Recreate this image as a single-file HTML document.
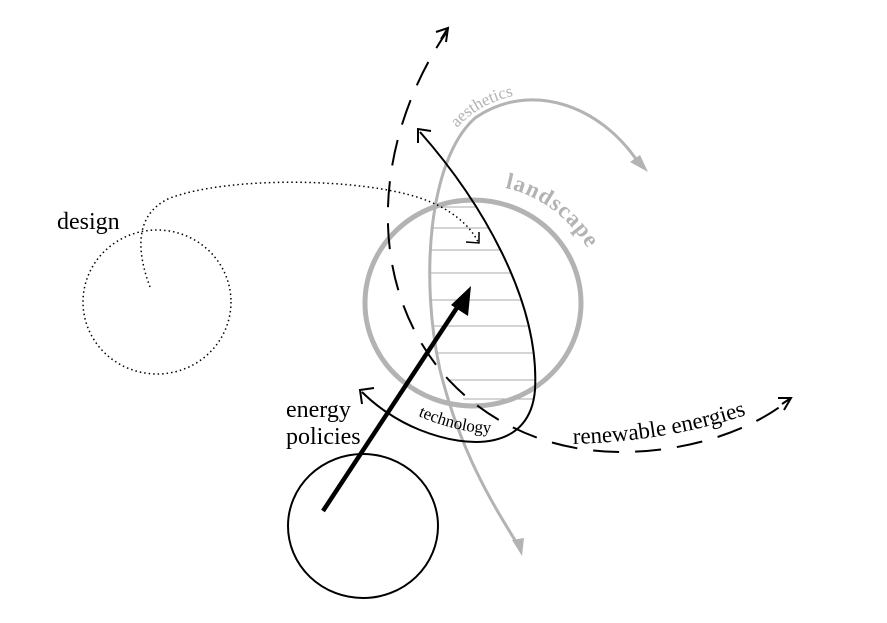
<!DOCTYPE html>
<html><head><meta charset="utf-8"><style>
html,body{margin:0;padding:0;background:#fff}
svg{display:block;font-family:"Liberation Serif",serif}
</style></head><body>
<svg width="887" height="623" viewBox="0 0 887 623" xmlns="http://www.w3.org/2000/svg">
<defs>
<clipPath id="leaf"><path d="M440,370 C420,280 425,160 470,115 L418,130 C480,200 540,300 535,390 C532,430 510,440 480,420 Z"/></clipPath>
</defs>
<g stroke="#aaa" stroke-width="1" clip-path="url(#leaf)">
<line x1="380" y1="207" x2="600" y2="207"/><line x1="380" y1="228" x2="600" y2="228"/>
<line x1="380" y1="250" x2="600" y2="250"/><line x1="380" y1="273" x2="600" y2="273"/>
<line x1="380" y1="300" x2="600" y2="300"/><line x1="380" y1="326" x2="600" y2="326"/>
<line x1="380" y1="353" x2="600" y2="353"/><line x1="380" y1="380" x2="600" y2="380"/>
<line x1="380" y1="399" x2="600" y2="399"/>
</g>
<ellipse cx="473" cy="303" rx="108" ry="103" fill="none" stroke="#b3b3b3" stroke-width="5"/>
<path d="M638,162 C600,105 530,80 475,118 C428,160 420,280 440,370 C460,450 490,500 518,545" fill="none" stroke="#b3b3b3" stroke-width="3"/>
<polygon points="648,172 630,162 640,155" fill="#b3b3b3"/>
<polygon points="522,556 512,540 524,538" fill="#b3b3b3"/>
<path id="aesT" d="M457,128 C475,108 500,95 540,92" fill="none"/>
<text font-size="17" fill="#b3b3b3"><textPath href="#aesT">aesthetics</textPath></text>
<path id="landT" d="M505,188 C540,195 575,220 597,265" fill="none"/>
<text font-size="23" font-weight="bold" fill="#b3b3b3" letter-spacing="1"><textPath href="#landT">landscape</textPath></text>
<path d="M446,33 C380,130 360,270 440,370 C490,430 560,452 620,452 C690,452 750,430 785,403" fill="none" stroke="#000" stroke-width="2" stroke-dasharray="26,16" stroke-dashoffset="8"/>
<path d="M436,32 L448,28 L446,42 M448,28 L441,39" fill="none" stroke="#000" stroke-width="2"/>
<path d="M778,398 L791,398 L784,410 M791,398 L782,404" fill="none" stroke="#000" stroke-width="2"/>
<path id="renT" d="M573,444 C640,442 700,432 760,410" fill="none"/>
<text font-size="23"><textPath href="#renT">renewable energies</textPath></text>
<path d="M420,132 C480,200 540,300 535,390 C530,450 470,450 420,430 C395,420 375,405 362,392" fill="none" stroke="#000" stroke-width="2"/>
<path d="M418,143 L418,129 L431,131" fill="none" stroke="#000" stroke-width="2"/>
<path d="M362,404 L360,390 L374,388" fill="none" stroke="#000" stroke-width="2"/>
<path id="techT" d="M418,416 C445,427 475,436 505,432" fill="none"/>
<text font-size="17"><textPath href="#techT">technology</textPath></text>
<path d="M150,287 C138,255 132,215 170,198 C230,176 360,178 420,198 C450,208 470,225 478,242" fill="none" stroke="#000" stroke-width="1.5" stroke-dasharray="1.5,3"/>
<path d="M466,242 L479,243 L479,232" fill="none" stroke="#000" stroke-width="1.5"/>
<ellipse cx="157" cy="302" rx="74" ry="72" fill="none" stroke="#000" stroke-width="1.5" stroke-dasharray="1.5,3"/>
<text x="57" y="229" font-size="24">design</text>
<ellipse cx="363" cy="526" rx="75" ry="72" fill="none" stroke="#000" stroke-width="2"/>
<line x1="323" y1="511" x2="462" y2="300" stroke="#000" stroke-width="4.5"/>
<polygon points="471,286 468,316 451,305" fill="#000"/>
<text x="286" y="417" font-size="24">energy</text>
<text x="286" y="444" font-size="24">policies</text>
</svg>
</body></html>
